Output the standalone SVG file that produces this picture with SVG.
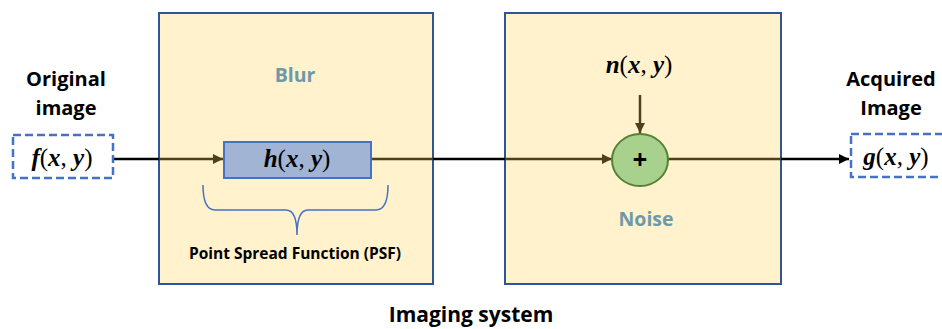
<svg xmlns="http://www.w3.org/2000/svg" width="942" height="329" viewBox="0 0 942 329">
<defs>
<style>
.lbl{font-family:"Open Sans","Liberation Sans",sans-serif;font-weight:bold;fill:#000;text-anchor:middle}
.sec{font-family:"Open Sans","Liberation Sans",sans-serif;font-weight:bold;fill:#6f98a8;text-anchor:middle;font-size:19.5px}
.math{font-family:"Liberation Serif","DejaVu Serif",serif;font-weight:bold;font-style:italic;fill:#000;text-anchor:middle;font-size:25px}
.p{font-weight:normal;font-style:normal}
.stage{fill:#fff2cc;stroke:#2f5597;stroke-width:2}
.dash{fill:#fff;stroke:#4472c4;stroke-width:2.5;stroke-dasharray:8 4}
.blk{stroke:#000;stroke-width:2.5;fill:none}
.brn{stroke:#4f3f1a;stroke-width:2.5;fill:none}
</style>
<marker id="ab" viewBox="0 0 10 10" refX="10" refY="5" markerWidth="4" markerHeight="4" orient="auto" markerUnits="strokeWidth"><path d="M0,0 L10,5 L0,10 z" fill="#4f3f1a"/></marker>
<marker id="ak" viewBox="0 0 10 10" refX="10" refY="5" markerWidth="4" markerHeight="4" orient="auto" markerUnits="strokeWidth"><path d="M0,0 L10,5 L0,10 z" fill="#000"/></marker>
</defs>
<rect width="942" height="329" fill="#fff"/>
<g id="blur">
<rect class="stage" x="159" y="13" width="274" height="271"/>
<text class="sec" x="295" y="82">Blur</text>
</g>
<g id="noise">
<rect class="stage" x="505" y="13" width="276" height="271"/>
<text class="sec" x="646" y="226">Noise</text>
</g>
<g id="connectors">
<line class="blk" x1="113" y1="159" x2="159" y2="159"/>
<line class="brn" x1="159" y1="159" x2="223" y2="159" marker-end="url(#ab)"/>
<line class="brn" x1="371" y1="159" x2="433" y2="159"/>
<line class="blk" x1="433" y1="159" x2="505" y2="159"/>
<line class="brn" x1="505" y1="159" x2="612" y2="159" marker-end="url(#ab)"/>
<line class="brn" x1="640" y1="95" x2="640" y2="133" marker-end="url(#ab)"/>
<line class="brn" x1="668" y1="159" x2="781" y2="159"/>
<line class="blk" x1="781" y1="159" x2="849" y2="159" marker-end="url(#ak)"/>
</g>
<g id="input">
<text class="lbl" x="66" y="86" font-size="20">Original</text>
<text class="lbl" x="66" y="115" font-size="20">image</text>
<rect class="dash" x="13" y="135" width="100" height="43"/>
<text class="math" x="62" y="166">f<tspan class="p">(</tspan>x<tspan class="p">,</tspan> y<tspan class="p">)</tspan></text>
</g>
<g id="psf">
<rect x="224" y="142" width="147" height="36" fill="#a2b4d3" stroke="#4472c4" stroke-width="2"/>
<text class="math" x="297" y="167">h<tspan class="p">(</tspan>x<tspan class="p">,</tspan> y<tspan class="p">)</tspan></text>
</g>
<g id="brace">
<path d="M203,185 Q203,210 215,210 L286,210 Q297,210 297,235 Q297,210 308,210 L376,210 Q388,210 388,185" fill="none" stroke="#4472c4" stroke-width="1.5"/>
<text class="lbl" x="295" y="259" font-size="15.5">Point Spread Function (PSF)</text>
</g>
<g id="noise-src">
<text class="math" x="639" y="73">n<tspan class="p">(</tspan>x<tspan class="p">,</tspan> y<tspan class="p">)</tspan></text>
</g>
<g id="sum">
<ellipse cx="640" cy="160" rx="28" ry="26" fill="#a9d18e" stroke="#548235" stroke-width="2"/>
<text class="lbl" x="640" y="169" font-size="26">+</text>
</g>
<g id="output">
<text class="lbl" x="891" y="86" font-size="20">Acquired</text>
<text class="lbl" x="891" y="115" font-size="20">Image</text>
<rect class="dash" x="851" y="134" width="94" height="43"/>
<text class="math" x="896" y="165">g<tspan class="p">(</tspan>x<tspan class="p">,</tspan> y<tspan class="p">)</tspan></text>
</g>
<g id="system">
<text class="lbl" x="471" y="322" font-size="21">Imaging system</text>
</g>
</svg>
